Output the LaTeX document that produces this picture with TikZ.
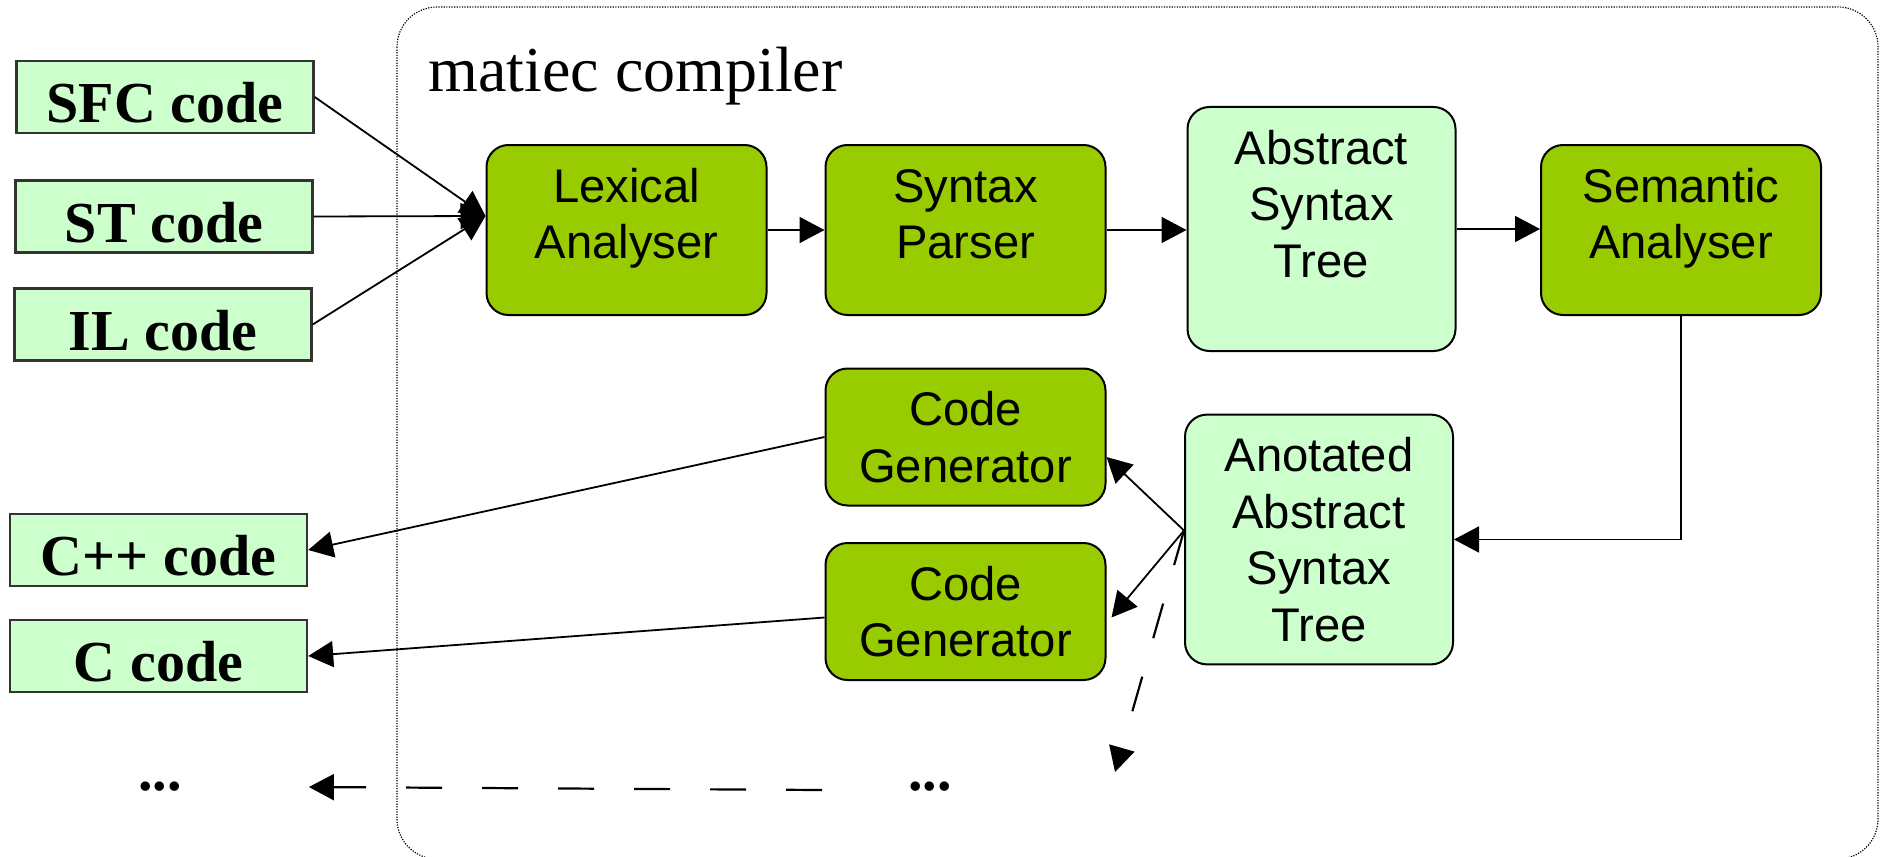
\documentclass[tikz,border=0pt]{standalone}
\usepackage{fontspec}
\setmainfont{Liberation Serif}
\newfontfamily\boxfont{Liberation Sans}
\usepackage{tikz}
\usetikzlibrary{arrows.meta}
\definecolor{stagegreen}{HTML}{99CC00}
\definecolor{datagreen}{HTML}{CCFFCC}

\begin{document}
\begin{tikzpicture}[x=0.5pt,y=-0.5pt,
  srcbox/.style={draw=black!80,line width=1.2pt,fill=datagreen,minimum width=148.5pt,minimum height=36pt,inner sep=0pt,text height=25.7pt,text depth=0pt,font=\fontsize{29}{34}\selectfont\bfseries},
  stage/.style 2 args={draw,line width=1pt,rounded corners=11pt,align=center,inner xsep=2pt,inner ysep=11.5pt,text height=#1,text depth=#2,font=\boxfont\fontsize{23.6}{28.3}\selectfont},
  tool/.style 2 args={stage={#1}{#2},fill=stagegreen,minimum width=140pt},
  tree/.style 2 args={stage={#1}{#2},fill=datagreen,minimum width=134pt},
  arr/.style={-{Triangle[length=12.5pt,width=13pt]},line width=0.9pt},
  dasharr/.style={arr,line width=1.1pt,dash pattern=on 18pt off 20pt},
  dots/.style={inner sep=0pt,minimum width=148.5pt,font=\fontsize{29}{34}\selectfont\bfseries}]
\useasboundingbox (0,0) rectangle (1883,856);
\draw [line width=0.6pt,dash pattern=on 0.6pt off 0.7pt,rounded corners=20pt] (397,7) rectangle (1878,859);
\node (title) at (428,91)[anchor=base west,inner sep=0pt,font=\fontsize{32}{38}\selectfont] {matiec compiler};
\node (sfc) at (165,97)[srcbox] {SFC code};
\node (st) at (164,216.5)[srcbox] {ST code};
\node (il) at (163,324.5)[srcbox] {IL code};
\node (cpp) at (158.5,550)[srcbox] {C++ code};
\node (c) at (158.5,656)[srcbox] {C code};
\node (lex) at (626.5,230)[tool={45.3pt}{16.7pt}] {Lexical\\Analyser};
\node (syn) at (965.5,230)[tool={45.3pt}{16.7pt}] {Syntax\\Parser};
\node (ast) at (1321.5,229)[tree={73.6pt}{25.4pt}] {Abstract\\Syntax\\Tree};
\node (sem) at (1681,230)[tool={45.3pt}{16.7pt}] {Semantic\\Analyser};
\node (gen1) at (965.5,437)[tool={45.3pt}{0.2pt}] {Code\\Generator};
\node (gen2) at (965.5,611.5)[tool={45.3pt}{0.2pt}] {Code\\Generator};
\node (anot) at (1319,539.5)[tree={101.9pt}{0pt}] {Anotated\\Abstract\\Syntax\\Tree};
\node (dotsleft) at (160,787)[dots] {...};
\node (dotsmid) at (930,787)[inner sep=0pt,font=\fontsize{29}{34}\selectfont\bfseries] {...};
\coordinate (lexin) at ([yshift=7pt]lex.west);
\coordinate (anotout) at ([yshift=4.5pt]anot.west);
\coordinate (gen3) at (1115,772);
\coordinate (gen3out) at (822,790);
\draw [arr] (sfc.east) -- (lexin);
\draw [arr] (st.east) -- (lexin);
\draw [arr] (il.east) -- (lexin);
\draw [arr] (lex.east) -- (syn.west);
\draw [arr] (syn.east) -- (syn.east -| ast.west);
\draw [arr] (ast.east) -- (ast.east -| sem.west);
\draw [arr] (sem.south) |- (anot.east);
\draw [arr] (anotout) -- ([yshift=-10pt]gen1.east);
\draw [arr] (anotout) -- ([xshift=2.5pt,yshift=-3pt]gen2.east);
\draw [dasharr] (anotout) -- (gen3);
\draw [arr] (gen1.west) -- (cpp.east);
\draw [arr] ([yshift=-3pt]gen2.west) -- (c.east);
\draw [dasharr] (gen3out) -- (dotsleft.east);
\end{tikzpicture}
\end{document}
